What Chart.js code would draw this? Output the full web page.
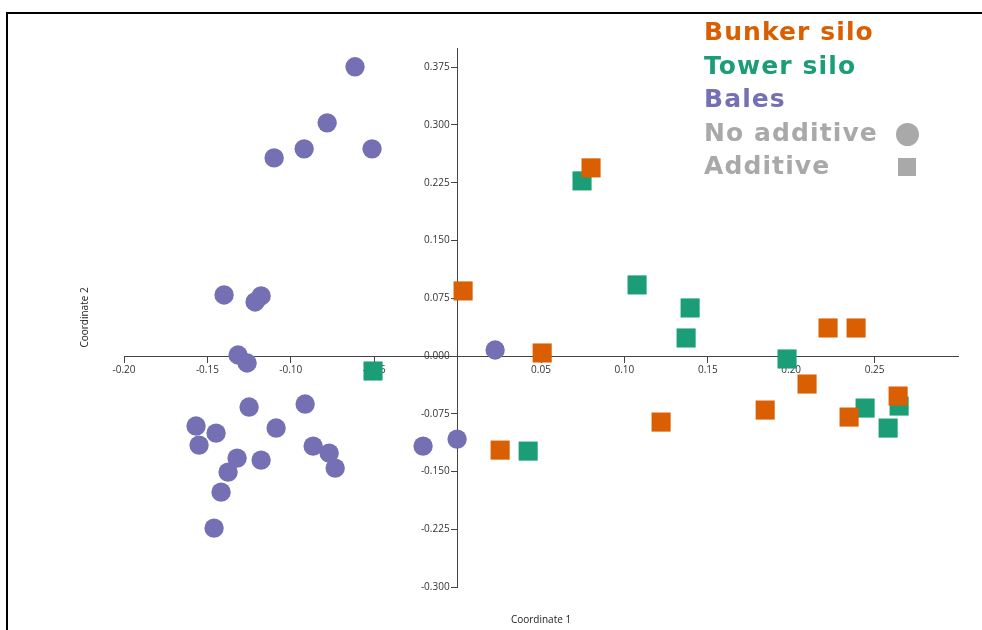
<!DOCTYPE html>
<html>
<head>
<meta charset="utf-8">
<title>Silage ordination</title>
<script src="https://cdn.jsdelivr.net/npm/chart.js@4/dist/chart.umd.min.js"></script>
<style>
  html, body { margin: 0; padding: 0; background: #fff; }
  #wrap { position: relative; width: 982px; height: 630px; overflow: hidden; }
  #frame { position: absolute; left: 6px; top: 12px; width: 1200px; height: 900px;
           border-left: 2px solid #000; border-top: 2px solid #000; pointer-events: none; }
  canvas { position: absolute; left: 0; top: 0; }
  .key { position: absolute; left: 704px; font-family: "DejaVu Sans", sans-serif; font-weight: bold;
         font-size: 25px; line-height: 25px; letter-spacing: 1.1px; white-space: nowrap; }
  .mark { position: absolute; background: #A9A9A9; }
</style>
</head>
<body>
<div id="wrap">
  <div id="frame"></div>
  <canvas id="c" width="982" height="630"></canvas>
</div>
<script>
// Coordinates of each sample on the first two ordination axes
const bunkerX = [0.0033, 0.0507, 0.0255, 0.0800, 0.1220, 0.1844, 0.2095, 0.2221, 0.2389, 0.2347, 0.2641];
const bunkerY = [0.0845, 0.0039, -0.1222, 0.2443, -0.0858, -0.0702, -0.0364, 0.0364, 0.0364, -0.0793, -0.0520];

const towerX = [-0.0507, 0.0423, 0.0746, 0.1076, 0.1394, 0.1370, 0.1975, 0.2443, 0.2647, 0.2581];
const towerY = [-0.0195, -0.1235, 0.2274, 0.0923, 0.0624, 0.0234, -0.0039, -0.0676, -0.0650, -0.0936];

const balesX = [-0.0615, -0.0782, -0.0920, -0.1100, -0.0513, -0.1400, -0.1178, -0.1214, -0.1316, -0.1262,
                -0.1250, -0.0914, -0.1568, -0.1448, -0.1088, -0.1550, -0.0866, -0.0770, -0.1322, -0.1178,
                -0.0734, -0.1376, -0.1418, -0.1460, 0.0225, -0.0003, -0.0207];
const balesY = [0.3756, 0.3028, 0.2690, 0.2573, 0.2690, 0.0793, 0.0780, 0.0702, 0.0013, -0.0091,
                -0.0663, -0.0624, -0.0910, -0.1001, -0.0936, -0.1157, -0.1170, -0.1261, -0.1326, -0.1352,
                -0.1456, -0.1508, -0.1768, -0.2235, 0.0078, -0.1079, -0.1170];

const seriesNames = ['Bunker silo', 'Tower silo', 'Bales'];
const markerNames = ['No additive', 'Additive'];

const xTickValues = [-0.20, -0.15, -0.10, -0.05, 0.05, 0.10, 0.15, 0.20, 0.25];
const xTickLabels = ['-0.20', '-0.15', '-0.10', '-0.05', '0.05', '0.10', '0.15', '0.20', '0.25'];
const yTickValues = [-0.300, -0.225, -0.150, -0.075, 0.000, 0.075, 0.150, 0.225, 0.300, 0.375];
const yTickLabels = ['-0.300', '-0.225', '-0.150', '-0.075', '0.000', '0.075', '0.150', '0.225', '0.300', '0.375'];

const xTitle = 'Coordinate 1';
const yTitle = 'Coordinate 2';

const colors = ['#D95F02', '#1B9E77', '#7570B3'];
const grey = '#A9A9A9';

const toPoints = (xs, ys) => xs.map((x, i) => ({ x: x, y: ys[i] }));

// Text key in the upper right corner
const keyTops = [19, 53, 86, 119.5, 152.5];
const wrap = document.getElementById('wrap');
seriesNames.concat(markerNames).forEach((name, i) => {
  const d = document.createElement('div');
  d.className = 'key';
  d.style.top = keyTops[i] + 'px';
  d.style.color = i < seriesNames.length ? colors[i] : grey;
  d.textContent = name;
  wrap.appendChild(d);
});
const dot = document.createElement('div');
dot.className = 'mark';
Object.assign(dot.style, { left: '896px', top: '123px', width: '23px', height: '23px', borderRadius: '50%' });
wrap.appendChild(dot);
const sq = document.createElement('div');
sq.className = 'mark';
Object.assign(sq.style, { left: '898px', top: '158px', width: '18px', height: '18px' });
wrap.appendChild(sq);

// Axis titles sit at the outer edges, away from the centred axes
const axisTitles = {
  id: 'axisTitles',
  afterDraw(chart) {
    const { ctx, chartArea: a } = chart;
    ctx.save();
    ctx.fillStyle = '#222';
    ctx.font = '10px "Open Sans", sans-serif';
    ctx.textAlign = 'center';
    ctx.textBaseline = 'middle';
    ctx.fillText(xTitle, (a.left + a.right) / 2, a.bottom + 33);
    ctx.translate(85, (a.top + a.bottom) / 2);
    ctx.rotate(-Math.PI / 2);
    ctx.fillText(yTitle, 0, 0);
    ctx.restore();
  }
};

const tickFont = { family: '"Open Sans", sans-serif', size: 10 };
const axisColor = '#444';

// A centred vertical axis right-aligns its labels on the axis line itself;
// shift them left so they clear the tick marks.
function offsetYLabels(scale) {
  if (scale._labelShift) return;
  scale._labelShift = true;
  const draw = scale.drawLabels.bind(scale);
  scale.drawLabels = (area) => {
    scale.ctx.save();
    scale.ctx.translate(-8, 0);
    draw(area);
    scale.ctx.restore();
  };
}

new Chart(document.getElementById('c'), {
  type: 'scatter',
  data: {
    datasets: [
      { label: seriesNames[0], data: toPoints(bunkerX, bunkerY), pointStyle: 'rect', pointRadius: 13.5,
        backgroundColor: colors[0], borderColor: colors[0], borderWidth: 0 },
      { label: seriesNames[1], data: toPoints(towerX, towerY), pointStyle: 'rect', pointRadius: 13.5,
        backgroundColor: colors[1], borderColor: colors[1], borderWidth: 0 },
      { label: seriesNames[2], data: toPoints(balesX, balesY), pointStyle: 'circle', pointRadius: 9.7,
        backgroundColor: colors[2], borderColor: colors[2], borderWidth: 0 }
    ]
  },
  options: {
    responsive: false,
    animation: false,
    layout: { padding: { left: 124, right: 24, top: 48, bottom: 43 } },
    plugins: { legend: { display: false }, tooltip: { enabled: false }, title: { display: false } },
    scales: {
      x: {
        type: 'linear', min: -0.2, max: 0.3, position: { y: 0 },
        afterBuildTicks: s => { s.ticks = xTickValues.map(v => ({ value: v })); },
        ticks: { callback: (v, i) => xTickLabels[i], font: tickFont, color: '#333', padding: 2,
                 autoSkip: false, maxRotation: 0 },
        grid: { drawOnChartArea: false, drawTicks: true, tickLength: 6, color: axisColor },
        border: { color: axisColor, width: 1 }
      },
      y: {
        type: 'linear', min: -0.3, max: 0.4, position: { x: 0 },
        afterBuildTicks: s => { s.ticks = yTickValues.map(v => ({ value: v })); },
        afterUpdate: offsetYLabels,
        ticks: { callback: (v, i) => yTickLabels[i], font: tickFont, color: '#333', padding: 2,
                 autoSkip: false },
        grid: { drawOnChartArea: false, drawTicks: true, tickLength: 6, color: axisColor },
        border: { color: axisColor, width: 1 }
      }
    }
  },
  plugins: [axisTitles]
});
</script>
</body>
</html>
